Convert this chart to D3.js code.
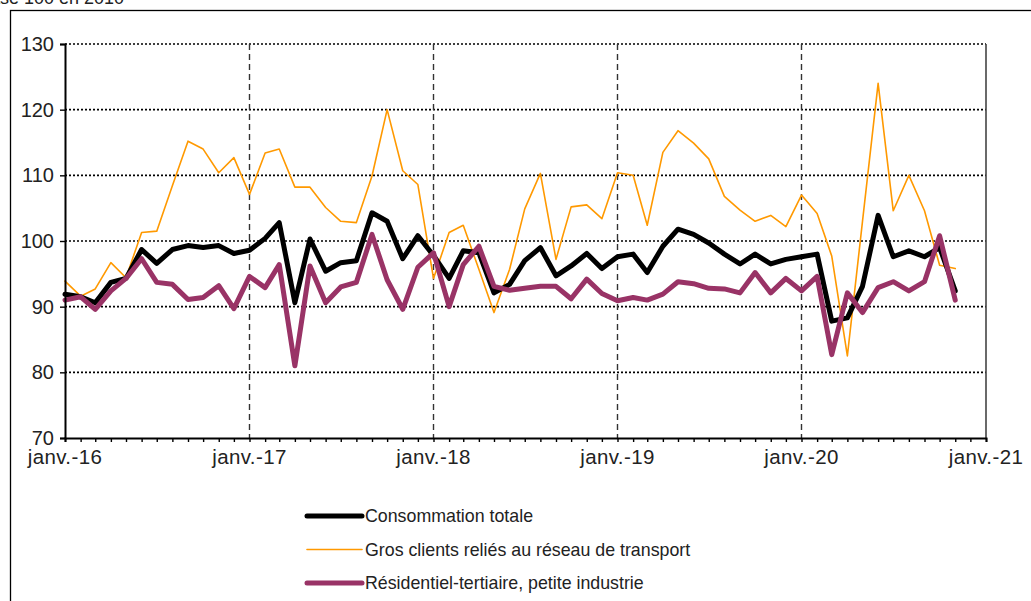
<!DOCTYPE html>
<html>
<head>
<meta charset="utf-8">
<script src="https://cdn.jsdelivr.net/npm/d3@7"></script>
<style>
  body { margin: 0; background: #fff; }
  svg { display: block; font-family: "Liberation Sans", Arial, sans-serif; }
</style>
</head>
<body>
<div id="chart"></div>
<script>
// Monthly data, janv. 2016 -> nov. 2020 (base 100 en 2010)
var months = d3.timeMonth.range(new Date(2016, 0, 1), new Date(2020, 11, 1));

var totale = [
  91.9, 91.5, 90.6, 93.7, 94.3, 98.7, 96.6, 98.7, 99.3, 99.0, 99.3, 98.1,
  98.6, 100.4, 102.8, 90.6, 100.3, 95.4, 96.7, 97.0, 104.3, 103.0, 97.3, 100.8,
  97.8, 94.3, 98.5, 98.2, 92.1, 93.4, 97.0, 99.0, 94.7, 96.2, 98.1, 95.8,
  97.6, 98.0, 95.2, 99.2, 101.8, 101.0, 99.7, 98.0, 96.5, 98.0, 96.5, 97.2,
  97.6, 98.0, 87.8, 88.3, 93.1, 103.9, 97.6, 98.5, 97.6, 99.0, 92.4
];

var grosClients = [
  93.9, 91.6, 92.7, 96.7, 94.4, 101.3, 101.5, 108.4, 115.2, 114.0, 110.4, 112.7,
  107.1, 113.4, 114.0, 108.2, 108.2, 105.1, 103.0, 102.8, 109.9, 120.0, 110.7, 108.6,
  94.3, 101.3, 102.4, 95.7, 89.1, 95.7, 104.9, 110.3, 97.2, 105.2, 105.5, 103.4,
  110.4, 110.0, 102.4, 113.5, 116.8, 114.9, 112.5, 106.8, 104.7, 103.0, 103.9, 102.2,
  107.0, 104.2, 97.7, 82.5, 103.0, 124.0, 104.6, 110.0, 104.6, 96.3, 95.8
];

var residentiel = [
  91.0, 91.5, 89.6, 92.4, 94.3, 97.3, 93.7, 93.4, 91.1, 91.4, 93.2, 89.7,
  94.6, 92.9, 96.4, 81.0, 96.2, 90.6, 93.0, 93.7, 101.0, 94.1, 89.6, 96.0,
  98.2, 90.0, 96.4, 99.2, 93.1, 92.5, 92.8, 93.1, 93.1, 91.2, 94.2, 92.0,
  90.9, 91.4, 91.0, 91.9, 93.8, 93.5, 92.8, 92.7, 92.1, 95.2, 92.1, 94.3,
  92.4, 94.6, 82.7, 92.1, 89.1, 92.9, 93.8, 92.4, 93.8, 100.8, 91.0
];

var yearTicks = [2016, 2017, 2018, 2019, 2020, 2021];
var yearLabels = ["janv.-16", "janv.-17", "janv.-18", "janv.-19", "janv.-20", "janv.-21"];
var yTicks = [70, 80, 90, 100, 110, 120, 130];

var series = [
  { name: "Consommation totale", values: totale, color: "#000000", width: 5 },
  { name: "Gros clients reliés au réseau de transport", values: grosClients, color: "#ff9900", width: 1.6 },
  { name: "Résidentiel-tertiaire, petite industrie", values: residentiel, color: "#993366", width: 5 }
];

var width = 1031, height = 601;
var margin = { left: 65, top: 44, right: 45, bottom: 163 };
var plot_width = width - margin.left - margin.right;   // 921
var plot_height = height - margin.top - margin.bottom; // 394

var svg = d3.select("#chart")
  .append("svg")
  .attr("width", width)
  .attr("height", height);

// Outer frame (runs off the right and bottom of the picture)
svg.append("rect")
  .attr("x", 10.5).attr("y", 10.5)
  .attr("width", 1100).attr("height", 700)
  .attr("fill", "none")
  .attr("stroke", "#000")
  .attr("stroke-width", 1.3);

// Unit note, clipped at the top-left corner
svg.append("text")
  .attr("x", -22)
  .attr("y", 4)
  .style("font-size", "18px")
  .style("fill", "#222")
  .text("Base 100 en 2010");

var g = svg.append("g")
  .attr("transform", `translate(${margin.left}, ${margin.top})`);

var x = d3.scaleTime()
  .domain([new Date(2016, 0, 1), new Date(2021, 0, 1)])
  .range([0, plot_width]);

var y = d3.scaleLinear()
  .domain([70, 130])
  .range([plot_height, 0]);

// Horizontal dotted gridlines
g.selectAll(".hgrid")
  .data(yTicks.filter(function (d) { return d > 70; }))
  .enter().append("line")
  .attr("x1", 0)
  .attr("x2", plot_width)
  .attr("y1", function (d) { return y(d); })
  .attr("y2", function (d) { return y(d); })
  .style("stroke", "#000")
  .style("stroke-width", 1.6)
  .style("stroke-dasharray", "2,2");

// Vertical dashed gridlines at each January
g.selectAll(".vgrid")
  .data(yearTicks.slice(1, -1))
  .enter().append("line")
  .attr("x1", function (d) { return x(new Date(d, 0, 1)); })
  .attr("x2", function (d) { return x(new Date(d, 0, 1)); })
  .attr("y1", 0)
  .attr("y2", plot_height)
  .style("stroke", "#333")
  .style("stroke-width", 1.4)
  .style("stroke-dasharray", "6,4");

// Right border of plot area
g.append("line")
  .attr("x1", plot_width).attr("x2", plot_width)
  .attr("y1", 0).attr("y2", plot_height)
  .style("stroke", "#444")
  .style("stroke-width", 1.6);

// Series lines
var line = d3.line()
  .x(function (d, i) { return x(months[i]); })
  .y(function (d) { return y(d); });

// Draw orange first, then black, then purple on top like the source
[series[1], series[0], series[2]].forEach(function (s) {
  g.append("path")
    .datum(s.values)
    .attr("d", line)
    .attr("fill", "none")
    .attr("stroke", s.color)
    .attr("stroke-width", s.width)
    .attr("stroke-linejoin", "round")
    .attr("stroke-linecap", "round");
});

// Y axis
var yAxis = d3.axisLeft(y)
  .tickValues(yTicks)
  .tickSize(5)
  .tickPadding(6)
  .tickFormat(d3.format("d"));
var ya = g.append("g").call(yAxis);
ya.select(".domain").attr("stroke", "#000").attr("stroke-width", 2);
ya.selectAll(".tick line").attr("stroke", "#000").attr("stroke-width", 1.4);
ya.selectAll(".tick text")
  .style("font-size", "20px")
  .style("fill", "#222");

// X axis: monthly ticks, year labels
var xAxis = d3.axisBottom(x)
  .ticks(d3.timeMonth.every(1))
  .tickSize(4)
  .tickFormat("");
var xa = g.append("g")
  .attr("transform", `translate(0, ${plot_height})`)
  .call(xAxis);
xa.select(".domain").attr("stroke", "#000").attr("stroke-width", 2);
xa.selectAll(".tick line").attr("stroke", "#000").attr("stroke-width", 1.4);

g.selectAll(".xlabel")
  .data(yearTicks)
  .enter().append("text")
  .attr("x", function (d) { return x(new Date(d, 0, 1)); })
  .attr("y", plot_height + 26)
  .attr("text-anchor", "middle")
  .style("font-size", "20.5px")
  .style("letter-spacing", "0.4px")
  .style("fill", "#222")
  .text(function (d, i) { return yearLabels[i]; });

// Legend
var legend = svg.append("g")
  .attr("transform", "translate(307, 516)");

legend.selectAll(".item")
  .data(series)
  .enter().append("g")
  .attr("transform", function (d, i) { return `translate(0, ${i * 33.5})`; })
  .each(function (d) {
    var item = d3.select(this);
    item.append("line")
      .attr("x1", 0).attr("x2", 55)
      .attr("y1", 0).attr("y2", 0)
      .attr("stroke", d.color)
      .attr("stroke-width", d.width)
      .attr("stroke-linecap", "round");
    item.append("text")
      .attr("x", 58)
      .attr("y", 6)
      .style("font-size", "17.8px")
      .style("fill", "#222")
      .text(d.name);
  });
</script>
</body>
</html>
